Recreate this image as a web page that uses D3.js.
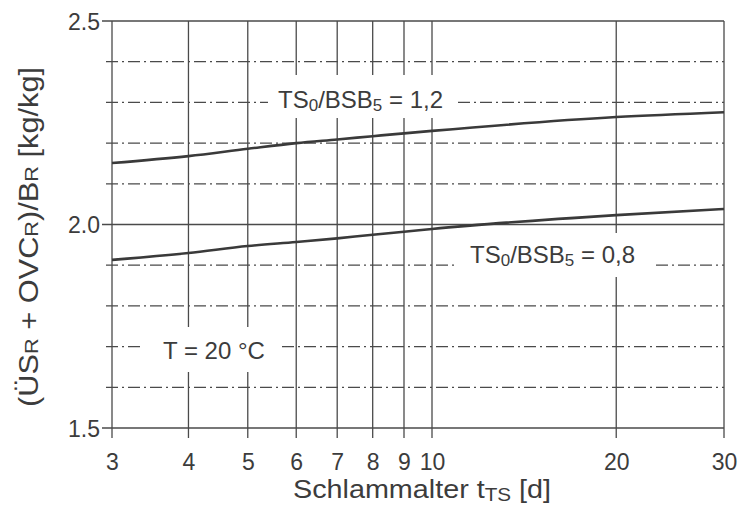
<!DOCTYPE html>
<html>
<head>
<meta charset="utf-8">
<script src="https://cdn.jsdelivr.net/npm/d3@7"></script>
<style>
  body { margin: 0; background: #fff; }
  text { font-family: "Liberation Sans", Arial, sans-serif; fill: #3c3c3c; }
</style>
</head>
<body>
<svg id="chart" width="739" height="516"></svg>
<script>
// data
const ageTicks = [3, 4, 5, 6, 7, 8, 9, 10, 20, 30];
const ageLabels = ["3", "4", "5", "6", "7", "8", "9", "10", "20", "30"];
const majorY = [1.5, 2.0, 2.5];
const majorYLabels = ["1.5", "2.0", "2.5"];
const minorY = [1.6, 1.7, 1.8, 1.9, 2.1, 2.2, 2.3, 2.4];

const curveAge = [3, 4, 5, 6, 7, 8, 9, 10, 20, 30];
const ratio12 = [2.151, 2.168, 2.186, 2.200, 2.209, 2.217, 2.224, 2.230, 2.264, 2.276];
const ratio08 = [1.913, 1.930, 1.947, 1.957, 1.966, 1.975, 1.982, 1.989, 2.023, 2.038];

// layout
const plotLeft = 112, plotRight = 724, plotTop = 21, plotBottom = 428;
const lineColor = "#4a4a4a";

const svg = d3.select("#chart");

const x = d3.scaleLog().domain([3, 30]).range([plotLeft, plotRight]);
const y = d3.scaleLinear().domain([1.5, 2.5]).range([plotBottom, plotTop]);

// vertical grid (reaching past the bottom as ticks)
svg.append("g")
  .selectAll("line")
  .data(ageTicks)
  .enter()
  .append("line")
  .attr("x1", d => x(d)).attr("x2", d => x(d))
  .attr("y1", plotTop).attr("y2", plotBottom + 10)
  .attr("stroke", lineColor)
  .attr("stroke-width", 1.3);

// dash-dot minor horizontals
svg.append("g")
  .selectAll("line")
  .data(minorY)
  .enter()
  .append("line")
  .attr("x1", plotLeft - 6).attr("x2", plotRight)
  .attr("y1", d => y(d)).attr("y2", d => y(d))
  .attr("stroke", lineColor)
  .attr("stroke-width", 1.2)
  .attr("stroke-dasharray", "12,4,2,4");

// solid major horizontals
svg.append("g")
  .selectAll("line")
  .data(majorY)
  .enter()
  .append("line")
  .attr("x1", plotLeft - 10).attr("x2", plotRight)
  .attr("y1", d => y(d)).attr("y2", d => y(d))
  .attr("stroke", lineColor)
  .attr("stroke-width", 1.3);

// axis labels through d3 axes
const xAxis = d3.axisBottom(x)
  .tickValues(ageTicks)
  .tickFormat((d, i) => ageLabels[i])
  .tickSize(0)
  .tickPadding(0);

svg.append("g")
  .attr("transform", `translate(0,${plotBottom})`)
  .call(xAxis)
  .call(g => g.select(".domain").remove())
  .selectAll("text")
  .attr("y", 42)
  .attr("dy", null)
  .style("font-size", "23px")
  .style("font-family", "Liberation Sans, Arial, sans-serif")
  .attr("fill", "#3c3c3c");

const yAxis = d3.axisLeft(y)
  .tickValues(majorY)
  .tickFormat((d, i) => majorYLabels[i])
  .tickSize(0)
  .tickPadding(12);

svg.append("g")
  .attr("transform", `translate(${plotLeft},0)`)
  .call(yAxis)
  .call(g => g.select(".domain").remove())
  .selectAll("text")
  .attr("dy", "0.36em")
  .style("font-size", "23px")
  .style("font-family", "Liberation Sans, Arial, sans-serif")
  .attr("fill", "#3c3c3c");

// white boxes behind the in-plot labels
const boxes = [
  { x: 268, y: 75, w: 190, h: 43 },
  { x: 458, y: 233, w: 194, h: 44 },
  { x: 143, y: 327, w: 139, h: 45 }
];
svg.append("g")
  .selectAll("rect")
  .data(boxes)
  .enter()
  .append("rect")
  .attr("x", d => d.x).attr("y", d => d.y)
  .attr("width", d => d.w).attr("height", d => d.h)
  .attr("fill", "#fff");

// ratio labels
function ratioLabel(xPos, yPos, value) {
  const t = svg.append("text")
    .attr("x", xPos).attr("y", yPos)
    .style("font-size", "24px");
  t.append("tspan").text("TS");
  t.append("tspan").text("0").style("font-size", "17px").attr("dy", 3);
  t.append("tspan").text("/BSB").attr("dy", -3);
  t.append("tspan").text("5").style("font-size", "17px").attr("dy", 3);
  t.append("tspan").text(" = " + value).attr("dy", -3);
}
ratioLabel(278, 108, "1,2");
ratioLabel(470, 263, "0,8");

svg.append("text")
  .attr("x", 163).attr("y", 359)
  .style("font-size", "24px")
  .text("T = 20 °C");

// curves
const line = d3.line()
  .x(d => x(d[0]))
  .y(d => y(d[1]))
  .curve(d3.curveMonotoneX);

[ratio12, ratio08].forEach(series => {
  svg.append("path")
    .datum(curveAge.map((a, i) => [a, series[i]]))
    .attr("d", line)
    .attr("fill", "none")
    .attr("stroke", "#3a3a3a")
    .attr("stroke-width", 2.6);
});

// axis titles (the scan's title lettering is a bit wider than Arial)
const xt = svg.append("text")
  .attr("transform", "translate(293,498) scale(1.15,1)")
  .style("font-size", "25px");
xt.append("tspan").text("Schlammalter t");
xt.append("tspan").text("TS").style("font-size", "18px").attr("dy", 3);
xt.append("tspan").text(" [d]").attr("dy", -3);

const yt = svg.append("text")
  .attr("transform", "translate(38,407) rotate(-90) scale(1.14,1)")
  .style("font-size", "27px");
yt.append("tspan").text("(ÜS");
yt.append("tspan").text("R").style("font-size", "19px");
yt.append("tspan").text(" + OVC");
yt.append("tspan").text("R").style("font-size", "19px");
yt.append("tspan").text(")/B");
yt.append("tspan").text("R").style("font-size", "19px");
yt.append("tspan").text(" [kg/kg]");
</script>
</body>
</html>
